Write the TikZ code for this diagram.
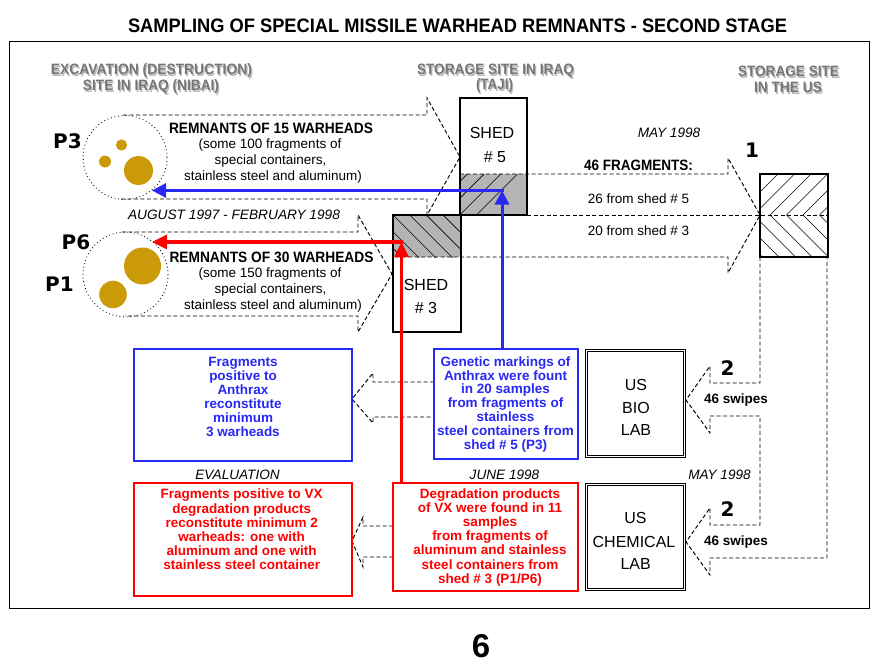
\documentclass[tikz,border=0pt]{standalone}
\usepackage{fontspec}
\usepackage{graphicx}
\setmainfont{Liberation Sans}
\newfontfamily\heavyfont{DejaVu Sans}
\usetikzlibrary{arrows.meta}
\definecolor{goldc}{RGB}{202,154,8}
\definecolor{hatchgray}{RGB}{180,180,180}
\definecolor{myblue}{RGB}{40,40,245}
\definecolor{myred}{RGB}{255,0,0}
\definecolor{headgray}{RGB}{118,118,118}
\definecolor{shadowgray}{RGB}{185,185,185}
\newcommand\myfit[2]{\resizebox{#1}{\height}{#2}}
\begin{document}
\begin{tikzpicture}[x=1pt,y=-1pt,
  txt/.style={inner sep=0pt, anchor=base},
  dsh/.style={draw=black, line width=0.95pt, dash pattern=on 4pt off 2.5pt},
  dotc/.style={draw=black, line width=0.9pt, dash pattern=on 0.8pt off 2.8pt},
  golddot/.style={fill=goldc, draw=none},
  hatchline/.style={line width=0.6pt, black},
  shedbox/.style={draw=black, line width=2.6pt, inner sep=0pt},
  usbox/.style={draw=black, line width=2.6pt, inner sep=0pt},
  labbox/.style={draw=black, double=white, double distance=1.4pt, line width=0.9pt, inner sep=0pt},
  bluebox/.style={draw=myblue, line width=2.6pt, inner sep=0pt},
  redbox/.style={draw=myred, line width=2.7pt, inner sep=0pt},
  bluetxt/.style={inner sep=0pt, anchor=north, align=center, text=myblue, font=\bfseries\fontsize{13.5}{13.9}\selectfont},
  redtxt/.style={inner sep=0pt, anchor=north, align=center, text=myred, font=\bfseries\fontsize{13.5}{14.2}\selectfont},
  boxlabel/.style={txt, font=\fontsize{16}{16}\selectfont},
  headtxt/.style={txt, text=headgray, font=\bfseries\fontsize{15}{15}\selectfont},
  headshadow/.style={headtxt, text=shadowgray},
  datelbl/.style={txt, font=\itshape\fontsize{13.6}{14}\selectfont},
  plain/.style={txt, font=\fontsize{13.5}{14}\selectfont},
  boldlbl/.style={txt, font=\bfseries\fontsize{13.5}{14}\selectfont},
  bignum/.style={txt, font=\heavyfont\bfseries\fontsize{20}{20}\selectfont},
  redarr/.style={draw=myred, line width=3.2pt, -{Triangle[length=15pt,width=14pt]}},
  bluearr/.style={draw=myblue, line width=3pt, -{Triangle[length=14pt,width=14pt]}},
]
\useasboundingbox (0,0) rectangle (885,666);
\fill[white] (0,0) rectangle (885,666);
% frame
\draw[line width=0.9pt] (9,41) rectangle (869,608);

% ---- hatched parts of sheds and US storage box
\fill[hatchgray] (460,174) rectangle (527,215);
\begin{scope}
  \clip (460,174) rectangle (527,215);
  \foreach \k in {-4,...,5} \draw[hatchline] ({393+16.7*\k},215) -- ++(70,-70);
\end{scope}
\fill[hatchgray] (393,215) rectangle (461,257);
\begin{scope}
  \clip (393,215) rectangle (461,257);
  \foreach \k in {-4,...,5} \draw[hatchline] ({393+16.7*\k},215) -- ++(70,70);
\end{scope}
\begin{scope}
  \clip (760,174) rectangle (828,215);
  \foreach \k in {-5,...,5} \draw[hatchline] ({770+16.5*\k},215) -- ++(70,-70);
\end{scope}
\begin{scope}
  \clip (760,215) rectangle (828,257);
  \foreach \k in {-5,...,5} \draw[hatchline] ({770+16.5*\k},215) -- ++(70,70);
\end{scope}

% ---- big dashed arrows
\draw[dsh] (123,115) -- (427,115) -- (427,98) -- (460,157) -- (427,215) -- (427,199) -- (120,199);
\draw[dsh] (122,232) -- (358,232) -- (358,215) -- (392,274) -- (358,332) -- (358,316) -- (125,316);
\draw[dsh] (460,174) -- (728,174) -- (728,158) -- (760,215) -- (728,273) -- (728,257) -- (393,257);
\draw[dsh] (527,215) -- (828,215);
\draw[dsh] (760,257) -- (760,383) -- (710,383) -- (710,366) -- (686,400) -- (710,433) -- (710,416)
  -- (760,416) -- (760,525) -- (710,525) -- (710,508) -- (686,542) -- (710,575) -- (710,558)
  -- (827,558) -- (827,257);
\draw[dsh] (434,382) -- (373,382) -- (373,373) -- (352,399) -- (373,423) -- (373,417) -- (434,417);
\draw[dsh] (393,526) -- (363,526) -- (363,517) -- (352,541) -- (363,567) -- (363,557) -- (393,557);

% ---- excavation sites
\draw[dotc] (125,157.5) circle (42);
\fill[golddot] (138.5,170.5) circle (14.5);
\fill[golddot] (121.5,145) circle (5.6);
\fill[golddot] (105,161.5) circle (6);
\draw[dotc] (125.5,274.5) circle (42.5);
\fill[golddot] (142.5,266) circle (18.5);
\fill[golddot] (113,294.5) circle (13.8);

% ---- boxes
\node[shedbox, minimum width=67pt, minimum height=117pt] (shed5) at (493.5,156.5) {};
\node[shedbox, minimum width=68pt, minimum height=117pt] (shed3) at (427,273.5) {};
\node[usbox, minimum width=68pt, minimum height=83pt] (usstore) at (794,215.5) {};
\node[labbox, minimum width=97.7pt, minimum height=105.7pt] (biolab) at (635.5,403.5) {};
\node[labbox, minimum width=97.7pt, minimum height=104.7pt] (chemlab) at (635.5,537) {};
\node[bluebox, minimum width=218pt, minimum height=112pt] (evalblue) at (243,405) {};
\node[bluebox, minimum width=144pt, minimum height=110pt] (findblue) at (506,404) {};
\node[redbox, minimum width=218pt, minimum height=113pt] (evalred) at (243,539.5) {};
\node[redbox, minimum width=185pt, minimum height=108pt] (findred) at (485.5,537) {};

% ---- red and blue arrows
\coordinate (redc) at (401.5,242);
\coordinate (redtip) at (152,242);
\coordinate (bluec) at (502,190.5);
\coordinate (bluetip) at (152,190.5);
\draw[bluearr] (bluec |- findblue.north) -- (bluec);
\draw[bluearr] ([xshift=1.5pt]bluec) -- (bluetip);
\draw[redarr] (redc |- findred.north) -- (redc);
\draw[redarr] ([xshift=1.6pt]redc) -- (redtip);

% ---- title and headings
\node[txt, font=\bfseries\fontsize{19.5}{20}\selectfont] (title) at (457.5,33)
  {\myfit{659pt}{SAMPLING OF SPECIAL MISSILE WARHEAD REMNANTS - SECOND STAGE}};
\node[headshadow] (h1as) at (152.7,76.2) {\myfit{201pt}{EXCAVATION (DESTRUCTION)}};
\node[headtxt] (h1a) at (151.5,75) {\myfit{201pt}{EXCAVATION (DESTRUCTION)}};
\node[headshadow] (h1bs) at (152.2,92.2) {\myfit{136pt}{SITE IN IRAQ (NIBAI)}};
\node[headtxt] (h1b) at (151,91) {\myfit{136pt}{SITE IN IRAQ (NIBAI)}};
\node[headshadow] (h2as) at (496.7,76.2) {\myfit{157pt}{STORAGE SITE IN IRAQ}};
\node[headtxt] (h2a) at (495.5,75) {\myfit{157pt}{STORAGE SITE IN IRAQ}};
\node[headshadow] (h2bs) at (495.7,91.2) {\myfit{37pt}{(TAJI)}};
\node[headtxt] (h2b) at (494.5,90) {\myfit{37pt}{(TAJI)}};
\node[headshadow] (h3as) at (789.7,78.2) {\myfit{101pt}{STORAGE SITE}};
\node[headtxt] (h3a) at (788.5,77) {\myfit{101pt}{STORAGE SITE}};
\node[headshadow] (h3bs) at (789.2,94.2) {\myfit{68pt}{IN THE US}};
\node[headtxt] (h3b) at (788,93) {\myfit{68pt}{IN THE US}};

% ---- excavation labels
\node[bignum] (p3) at (67.5,148) {P3};
\node[bignum] (p6) at (76,249) {P6};
\node[bignum] (p1) at (59.5,291) {P1};
\node[txt, font=\bfseries\fontsize{15}{15}\selectfont] (r15a) at (271,133) {\myfit{204pt}{REMNANTS OF 15 WARHEADS}};
\node[plain] (r15b) at (270,148) {(some 100 fragments of};
\node[plain] (r15c) at (270.5,164) {special containers,};
\node[plain] (r15d) at (273,180) {stainless steel and aluminum)};
\node[txt, font=\bfseries\fontsize{15}{15}\selectfont] (r30a) at (271.5,262) {\myfit{204pt}{REMNANTS OF 30 WARHEADS}};
\node[plain] (r30b) at (270,277) {(some 150 fragments of};
\node[plain] (r30c) at (270.5,293) {special containers,};
\node[plain] (r30d) at (273,309) {stainless steel and aluminum)};
\node[datelbl] (augdate) at (234,219) {\myfit{212pt}{AUGUST 1997 - FEBRUARY 1998}};

% ---- sheds and transfer
\node[boxlabel] (s5a) at (492,139) {SHED};
\node[boxlabel] (s5b) at (495,162) {\# 5};
\node[boxlabel] (s3a) at (426,290) {SHED};
\node[boxlabel] (s3b) at (426,313) {\# 3};
\node[datelbl] (may1) at (669,137) {MAY 1998};
\node[txt, font=\bfseries\fontsize{15}{15}\selectfont] (frag46) at (638.5,170) {\myfit{109pt}{46 FRAGMENTS:}};
\node[plain] (from5) at (638.5,203) {26 from shed \# 5};
\node[plain] (from3) at (638.5,235) {20 from shed \# 3};
\node[bignum] (n1) at (752,157) {1};

% ---- labs
\node[boxlabel] (bioa) at (636,390) {US};
\node[boxlabel] (biob) at (636,413) {BIO};
\node[boxlabel] (bioc) at (636,435) {LAB};
\node[boxlabel] (chema) at (635.5,523) {US};
\node[boxlabel] (chemb) at (634,547) {CHEMICAL};
\node[boxlabel] (chemc) at (635.7,569) {LAB};
\node[bignum] (n2a) at (727.5,375) {2};
\node[bignum] (n2b) at (727.5,516) {2};
\node[boldlbl] (sw1) at (736,403) {46 swipes};
\node[boldlbl] (sw2) at (736,545) {46 swipes};
\node[datelbl] (may2) at (719.5,479) {MAY 1998};
\node[datelbl] (evallbl) at (237.5,479) {EVALUATION};
\node[datelbl] (june) at (504.5,479) {JUNE 1998};

% ---- result texts
\node[bluetxt] (evalbluetxt) at (243,357.2)
  {Fragments\\positive to\\Anthrax\\reconstitute\\minimum\\3 warheads};
\node[bluetxt] (findbluetxt) at (505.5,356.2)
  {Genetic markings of\\Anthrax were fount\\in 20 samples\\from fragments of\\stainless\\steel containers from\\shed \# 5 (P3)};
\node[redtxt] (evalredtxt) at (241.7,489)
  {Fragments positive to VX\\degradation products\\reconstitute minimum 2\\warheads: one with\\aluminum and one with\\stainless steel container};
\node[redtxt] (findredtxt) at (490,488.2)
  {Degradation products\\of VX were found in 11\\samples\\from fragments of\\aluminum and stainless\\steel containers from\\shed \# 3 (P1/P6)};

% ---- page number
\node[txt, font=\bfseries\fontsize{33}{33}\selectfont] (pagenum) at (481,657) {6};
\end{tikzpicture}
\end{document}
